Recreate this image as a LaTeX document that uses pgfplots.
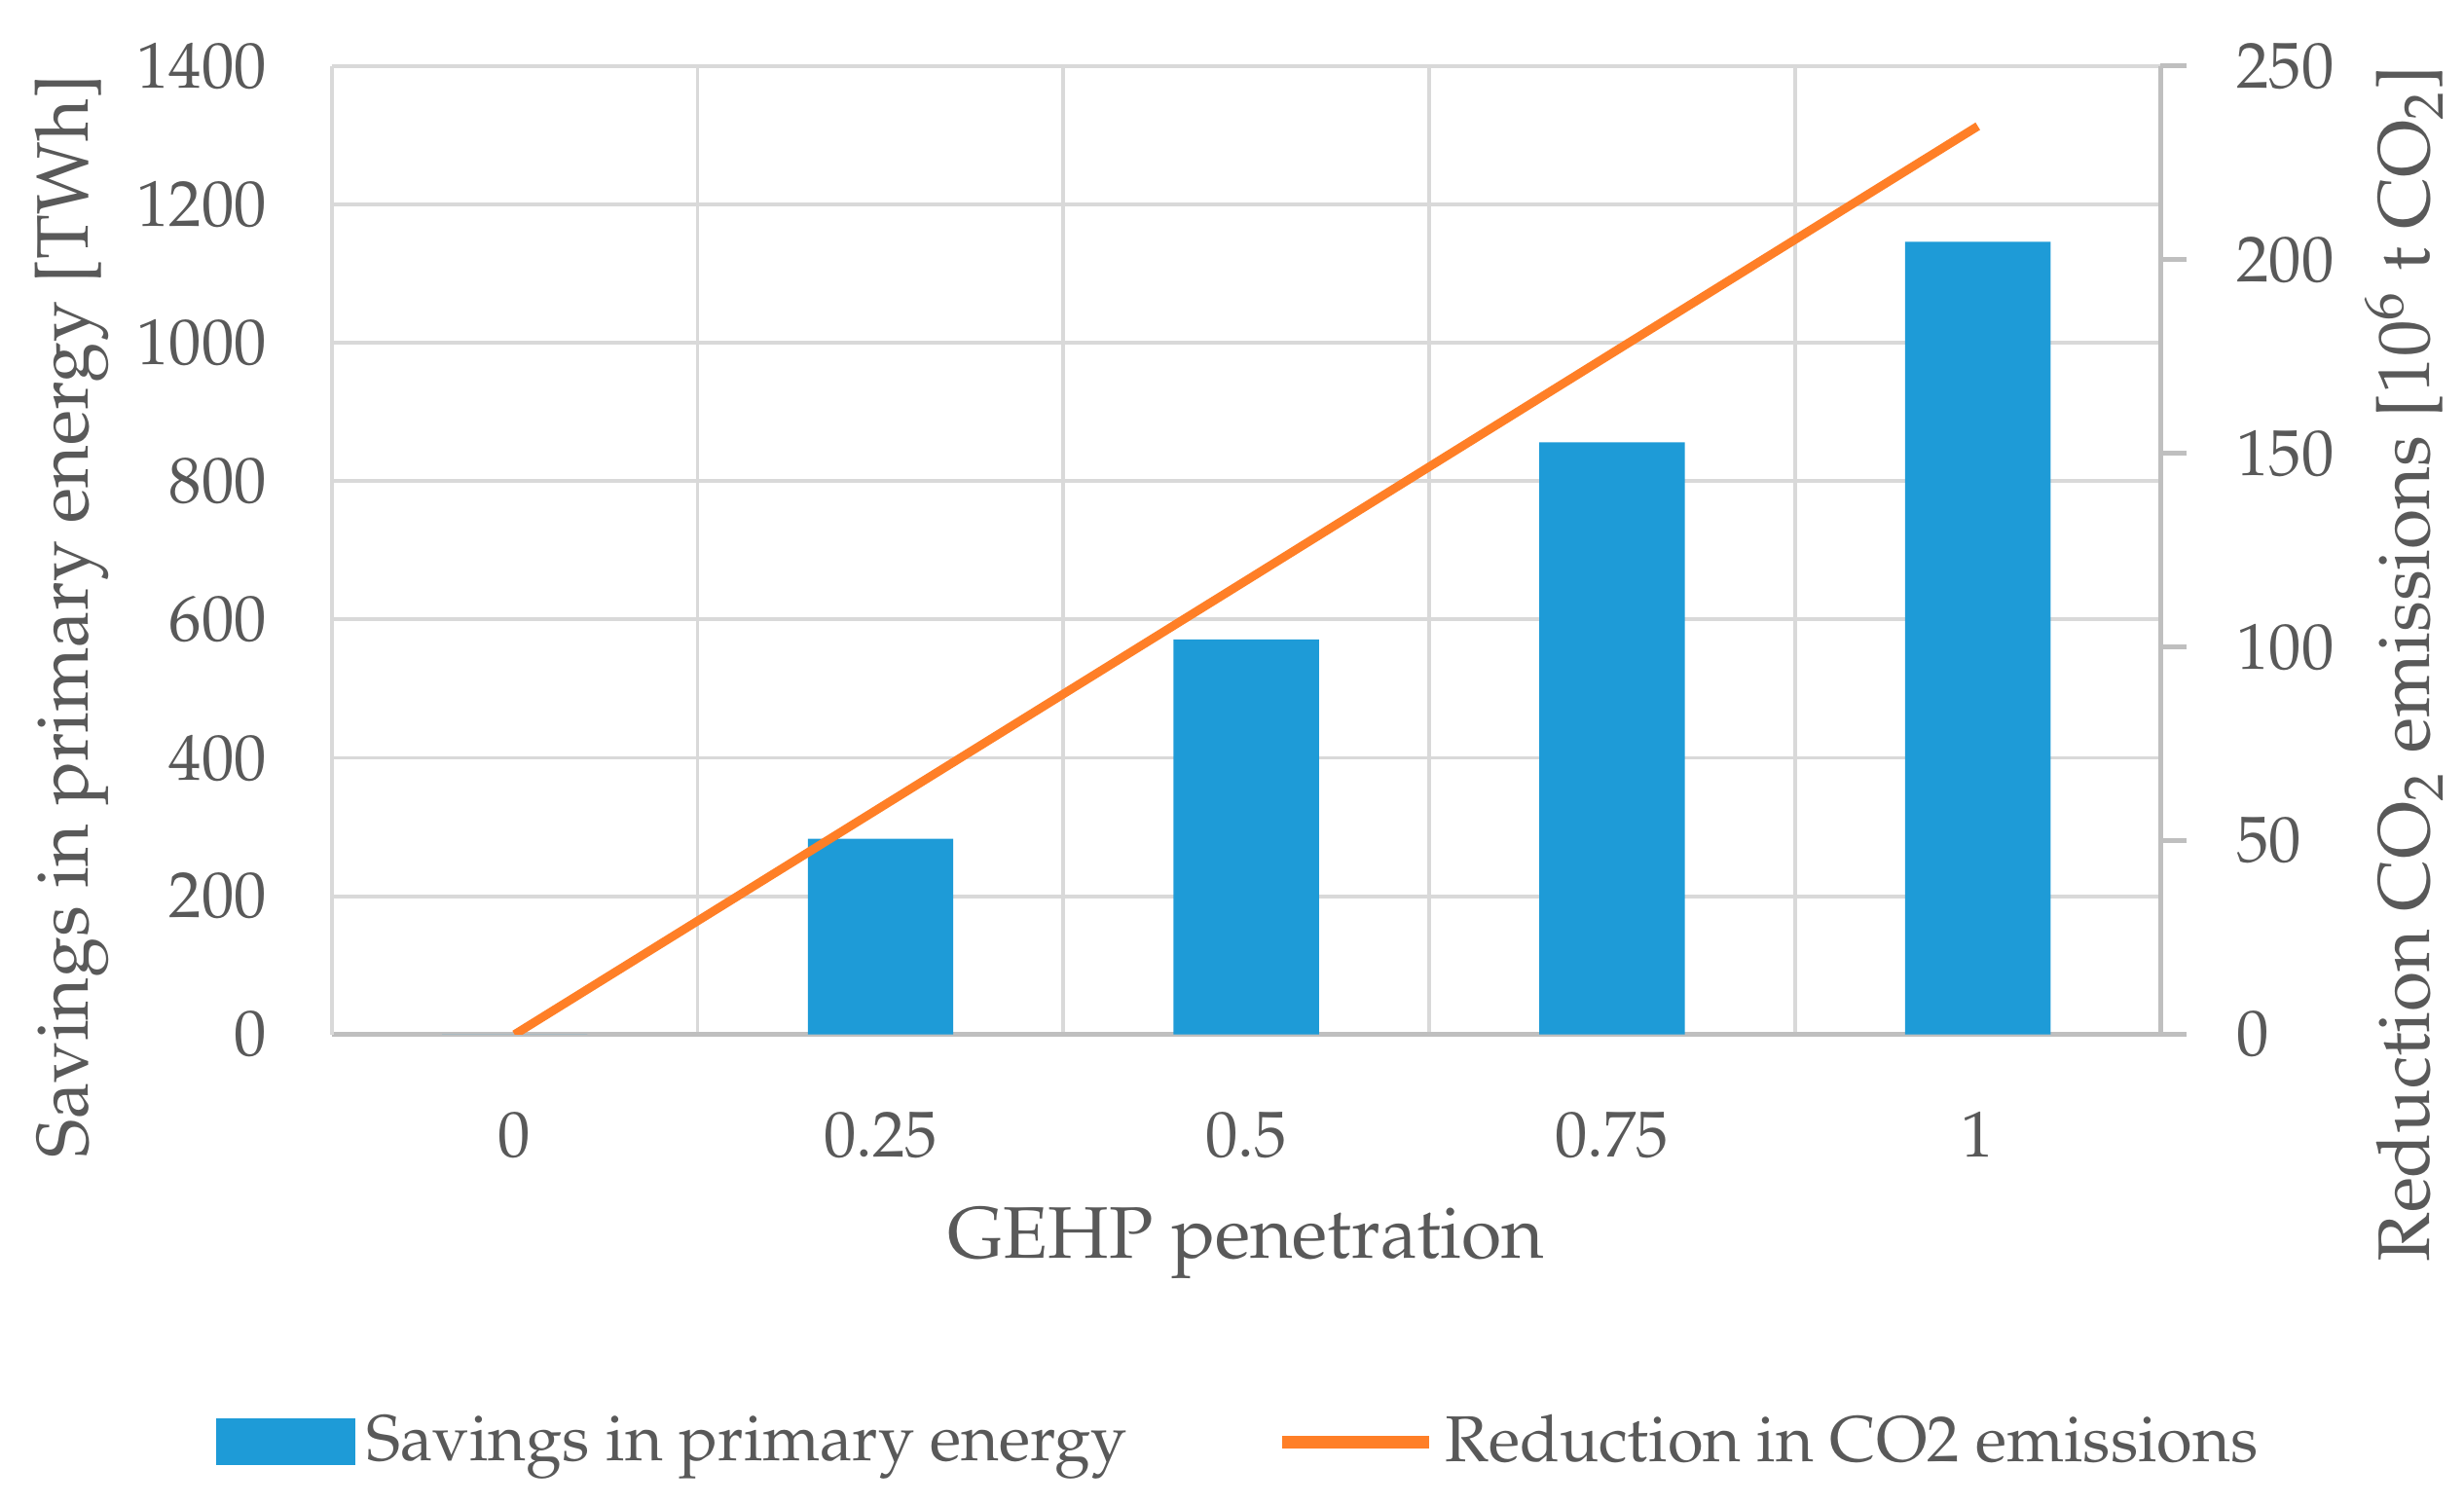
\documentclass[border=0pt]{standalone}
\usepackage[T1]{fontenc}
\usepackage{mathpazo}
\usepackage{pgfplots}
\pgfplotsset{compat=1.18}
\definecolor{txt}{HTML}{595959}
\definecolor{gridc}{HTML}{D9D9D9}
\definecolor{axc}{HTML}{BFBFBF}
\definecolor{barblue}{HTML}{1E9BD7}
\definecolor{lineorange}{HTML}{FF7F27}

\begin{document}
\begin{tikzpicture}
\path[use as bounding box] (-2.155,-3.05) rectangle (13.85,6.72);
\pgfplotsset{
  base/.style={
    scale only axis, width=11.88cm, height=6.29cm,
    xmin=-0.5, xmax=4.5,
    at={(0,0)}, anchor=south west,
    tick style={draw=none},
    ticklabel style={font=\fontsize{12}{14}\selectfont, text=txt},
    label style={font=\fontsize{13.5}{16}\selectfont, text=txt},
    /pgf/number format/1000 sep={},
  }
}
% left axis: bars
\begin{axis}[base,
  ymin=0, ymax=1400, ytick={0,200,...,1400},
  xtick={0,...,4}, xticklabels={0,0.25,0.5,0.75,1},
  minor xtick={0.5,1.5,2.5,3.5},
  ymajorgrids, xminorgrids,
  grid style={gridc, line width=0.7pt},
  minor grid style={gridc, line width=0.7pt},
  axis x line*=bottom, axis y line*=left,
  x axis line style={axc, line width=0.9pt, -},
  y axis line style={gridc, line width=0.7pt, -},
  xticklabel style={yshift=-0.38cm},
  yticklabel style={xshift=-0.3cm},
  xlabel={GEHP penetration},
  xlabel style={at={(axis description cs:0.5,-0.216)}, anchor=center},
  ylabel={Savings in primary energy [TWh]},
  ylabel style={at={(axis description cs:-0.142,0.432)}, anchor=center},
]
\addplot[ybar, bar width=0.944cm, fill=barblue, draw=none]
  coordinates {(0,0) (1,283) (2,571) (3,856) (4,1146)};
\end{axis}
% right axis: line
\begin{axis}[base,
  ymin=0, ymax=250, ytick={0,50,...,250},
  xtick=\empty,
  axis y line*=right, axis x line=none,
  y axis line style={axc, line width=0.9pt, -},
  ytick style={draw=axc, line width=0.9pt},
  major tick length=0.17cm, tick align=outside,
  yticklabel style={xshift=0.2cm},
  ylabel={Reduction CO\textsubscript{2} emissions [10\textsuperscript{6} t CO\textsubscript{2}]},
  ylabel style={at={(axis description cs:1.133,0.383)}, anchor=center},
  legend style={at={(axis description cs:0.498,-0.421)}, anchor=center,
    draw=none, fill=none, font=\fontsize{12}{14}\selectfont, text=txt,
    /tikz/every even column/.append style={column sep=0.9cm}},
  legend columns=2,
]
\addlegendimage{legend image code/.code={\fill[barblue] (0cm,-0.145cm) rectangle (0.89cm,0.145cm);}}
\addlegendentry{Savings in primary energy}
\addplot[lineorange, line width=1.6pt,
  legend image code/.code={\draw[lineorange, line width=2.2pt] (0cm,0cm) -- (0.95cm,0cm);}]
  coordinates {(0,0) (1,58.6) (2,117.2) (3,175.9) (4,234.5)};
\addlegendentry{Reduction in CO2 emissions}
\end{axis}
\end{tikzpicture}
\end{document}
